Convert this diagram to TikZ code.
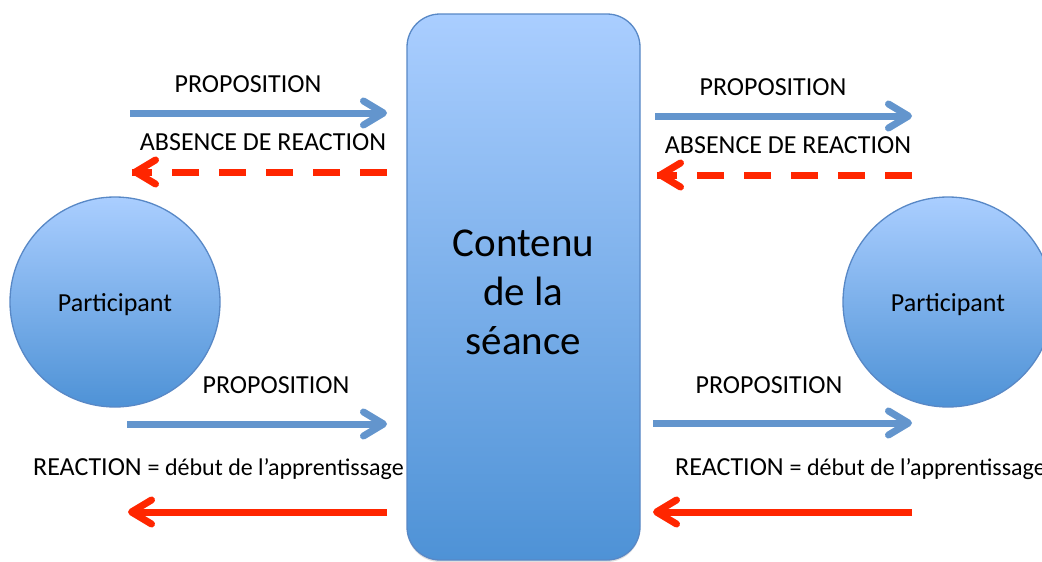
\documentclass[tikz,border=0pt]{standalone}
\usepackage{fontspec}
\setmainfont{Carlito}
\usetikzlibrary{arrows.meta,shadows}
\definecolor{arrblue}{RGB}{99,149,205}
\definecolor{arrred}{RGB}{255,38,0}
\definecolor{blobtop}{RGB}{170,206,255}
\definecolor{blobbot}{RGB}{78,146,214}
\definecolor{blobline}{RGB}{88,136,198}
\begin{document}
\begin{tikzpicture}[x=1pt,y=-1pt,
  blob/.style={draw=blobline, line width=1.3pt, top color=blobtop, bottom color=blobbot, inner sep=0pt},
  bluearrow/.style={draw=arrblue, line width=7pt, -{Straight Barb[length=20pt,width=24pt,round]}},
  redarrow/.style={draw=arrred, line width=7pt, -{Straight Barb[length=20pt,width=24pt,round]}},
  reddash/.style={draw=arrred, line width=7pt, dash pattern=on 27pt off 20pt},
  lbl/.style={anchor=base, inner sep=0pt, font=\fontsize{26}{30}\selectfont},
  reac/.style={anchor=base west, inner sep=0pt, font=\fontsize{24}{30}\selectfont},
  person/.style={blob, circle, minimum size=210pt, font=\fontsize{26}{30}\selectfont, text height=18pt, text depth=0pt}
]
\useasboundingbox (0,0) rectangle (1042,562);
\fill[white] (0,0) rectangle (1042,562);

% central box
\node[blob, rounded corners=33pt, minimum width=233pt, minimum height=546pt,
      drop shadow={opacity=0.25, shadow xshift=0pt, shadow yshift=-2pt}] (box) at (523.5,287) {};
\node[align=center, inner sep=0pt, font=\fontsize{41}{49}\selectfont] (boxlabel) at (523.5,292) {Contenu\\de la\\séance};

% participants
\node[person] (pl) at (115,302) {Participant};
\node[person] (pr) at (948,302) {Participant};

% left side
\coordinate (l1a) at (130,113); \coordinate (l1b) at (387,113);
\coordinate (l2a) at (387,172); \coordinate (l2b) at (132,172); \coordinate (l2c) at (135,172);
\coordinate (l3a) at (127,424); \coordinate (l3b) at (387,424);
\coordinate (l4a) at (387,512); \coordinate (l4b) at (128,512);
\draw[bluearrow] (l1a) -- (l1b);
\draw[reddash] (l2a) -- (l2b);
\draw[redarrow] (l2c) -- (l2b);
\draw[bluearrow] (l3a) -- (l3b);
\draw[redarrow] (l4a) -- (l4b);
\node[lbl] (t1) at (248,92) {PROPOSITION};
\node[lbl] (t2) at (263,150) {ABSENCE DE REACTION};
\node[lbl] (t3) at (276,393) {PROPOSITION};
\node[reac] (t4) at (33,475) {{\fontsize{26}{30}\selectfont REACTION }= début de l’apprentissage};

% right side
\coordinate (r1a) at (655,116); \coordinate (r1b) at (912,116);
\coordinate (r2a) at (912,175); \coordinate (r2b) at (657,175); \coordinate (r2c) at (660,175);
\coordinate (r3a) at (653,423); \coordinate (r3b) at (912,423);
\coordinate (r4a) at (912,512); \coordinate (r4b) at (653,512);
\draw[bluearrow] (r1a) -- (r1b);
\draw[reddash] (r2a) -- (r2b);
\draw[redarrow] (r2c) -- (r2b);
\draw[bluearrow] (r3a) -- (r3b);
\draw[redarrow] (r4a) -- (r4b);
\node[lbl] (u1) at (773,95) {PROPOSITION};
\node[lbl] (u2) at (788,153) {ABSENCE DE REACTION};
\node[lbl] (u3) at (769,393) {PROPOSITION};
\node[reac] (u4) at (675,475) {{\fontsize{26}{30}\selectfont REACTION }= début de l’apprentissage};
\end{tikzpicture}
\end{document}
